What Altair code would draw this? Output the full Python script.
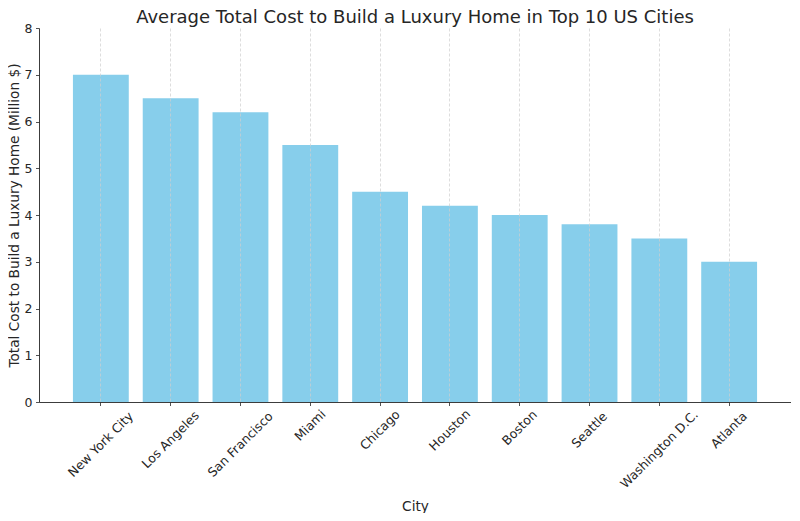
import altair as alt
import pandas as pd

cities = ["New York City", "Los Angeles", "San Francisco", "Miami", "Chicago",
          "Houston", "Boston", "Seattle", "Washington D.C.", "Atlanta"]
costs = [7.0, 6.5, 6.2, 5.5, 4.5, 4.2, 4.0, 3.8, 3.5, 3.0]
y_ticks = [0, 1, 2, 3, 4, 5, 6, 7, 8]
title_text = "Average Total Cost to Build a Luxury Home in Top 10 US Cities"

df = pd.DataFrame({"City": cities, "Cost": costs})

FONT = "DejaVu Sans"
TEXT = "#262626"
W, H = 752, 374

bars = alt.Chart(df).mark_bar(color="#87CEEB").encode(
    x=alt.X(
        "City:N", sort=cities, title="City",
        scale=alt.Scale(paddingInner=0.2, paddingOuter=0.486),
        axis=alt.Axis(
            labelAngle=-45, labelAlign="center", labelBaseline="middle",
            labelPadding=alt.ExprRef("7.4 + 2.4*length(datum.label)"),
            labelOverlap=False, labelFont=FONT, labelFontSize=12.5, labelColor=TEXT,
            tickSize=3.5, tickColor=TEXT, tickWidth=0.8,
            domainColor=TEXT, domainWidth=0.9,
            grid=True, gridColor="#cfcfcf", gridDash=[3, 2], gridWidth=0.7,
            bandPosition=0.5, zindex=1,
            titleFont=FONT, titleFontSize=13.7, titleFontWeight="normal",
            titleColor=TEXT, titleY=108, titleBaseline="alphabetic",
        ),
    ),
    y=alt.Y(
        "Cost:Q", title="Total Cost to Build a Luxury Home (Million $)",
        scale=alt.Scale(domain=[0, 8], nice=False),
        axis=alt.Axis(
            values=y_ticks, grid=False, format="d",
            labelFont=FONT, labelFontSize=12.5, labelColor=TEXT, labelPadding=3.5,
            tickSize=3.5, tickColor=TEXT, tickWidth=0.8,
            domainColor=TEXT, domainWidth=0.9,
            titleFont=FONT, titleFontSize=13.7, titleFontWeight="normal",
            titleColor=TEXT, titleX=-25, titleBaseline="middle",
        ),
    ),
)

title = alt.Chart(alt.Data(values=[{"t": title_text}])).mark_text(
    font=FONT, fontSize=18, color=TEXT, align="center", baseline="alphabetic",
).encode(
    text="t:N",
    x=alt.value(W / 2),
    y=alt.value(-5.3),
)

chart = alt.layer(bars, title).properties(
    width=W, height=H,
    padding={"left": 31, "top": 20, "right": 0, "bottom": 111},
    autosize="none",
).configure_view(stroke=None)

chart.save("out.html", embed_options={"renderer": "svg", "actions": False})
